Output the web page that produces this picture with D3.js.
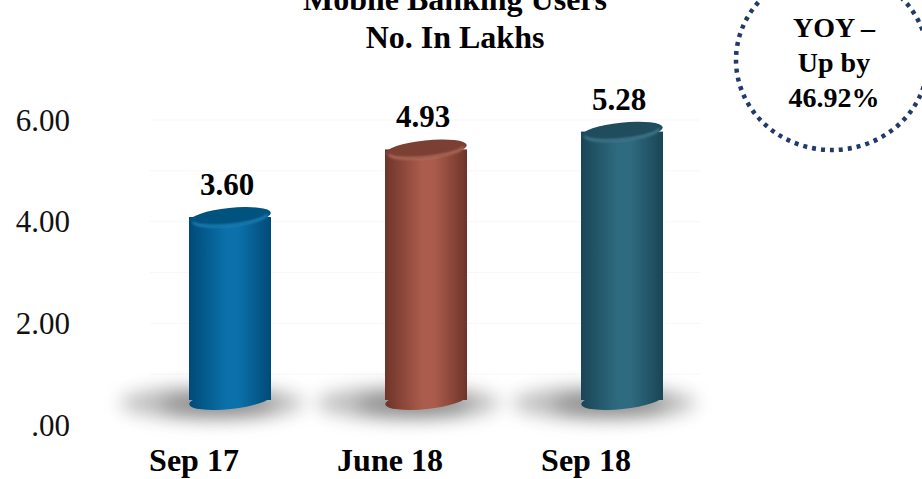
<!DOCTYPE html>
<html>
<head>
<meta charset="utf-8">
<script src="https://cdn.jsdelivr.net/npm/d3@7"></script>
<style>
  html, body { margin: 0; padding: 0; background: #fff; }
  svg { display: block; }
</style>
</head>
<body>
<svg id="chart" width="922" height="479"></svg>
<script>
// ---- data ----
const categories = ["Sep 17", "June 18", "Sep 18"];
const values = [3.60, 4.93, 5.28];
const valueLabels = ["3.60", "4.93", "5.28"];
const yTicks = [0, 2, 4, 6];
const yTickLabels = [".00", "2.00", "4.00", "6.00"];
const titleLines = ["Mobile Banking Users", "No. In Lakhs"];
const calloutLines = ["YOY \u2013", "Up by", "46.92%"];
const barColors = [
  { edge: "#004a78", mid: "#0b71aa", top: "#00527f", rim: "#2a8fc4" },
  { edge: "#6e3429", mid: "#ab5c4c", top: "#7c3f33", rim: "#c07a6a" },
  { edge: "#1a4556", mid: "#2f6b80", top: "#1f4d5e", rim: "#4f8a9e" }
];

const svg = d3.select("#chart");
const serif = "'Liberation Serif', 'DejaVu Serif', serif";

// scales
const x = d3.scaleBand().domain(categories).range([96, 684]).padding(0);
const y = d3.scaleLinear().domain([0, 6]).range([425, 120]);
const depthX = 36, depthY = -25;   // 3D offset of bar plane vs. front plane
const barW = 82, capRy = 9, tilt = -6;

const defs = svg.append("defs");
const blur = defs.append("filter").attr("id", "shadowBlur")
  .attr("x", "-50%").attr("y", "-150%").attr("width", "200%").attr("height", "400%");
blur.append("feGaussianBlur").attr("stdDeviation", 9);
const capBlur = defs.append("filter").attr("id", "capBlur")
  .attr("x", "-20%").attr("y", "-100%").attr("width", "140%").attr("height", "300%");
capBlur.append("feGaussianBlur").attr("stdDeviation", 1.2);

barColors.forEach((c, i) => {
  const g = defs.append("linearGradient").attr("id", "body" + i)
    .attr("x1", "0%").attr("x2", "100%").attr("y1", "0%").attr("y2", "0%");
  g.append("stop").attr("offset", "0%").attr("stop-color", c.edge);
  g.append("stop").attr("offset", "45%").attr("stop-color", c.mid);
  g.append("stop").attr("offset", "60%").attr("stop-color", c.mid);
  g.append("stop").attr("offset", "100%").attr("stop-color", c.edge);
});

// faint back-wall gridlines
svg.append("g").selectAll("line")
  .data(d3.range(1, 7))
  .join("line")
  .attr("x1", 150).attr("x2", 700)
  .attr("y1", d => y(d)).attr("y2", d => y(d))
  .attr("stroke", "#f7f7f7").attr("stroke-width", 1);

// title
svg.append("g").selectAll("text")
  .data(titleLines)
  .join("text")
  .attr("x", 455)
  .attr("y", (d, i) => 10 + i * 38)
  .attr("text-anchor", "middle")
  .attr("font-family", serif)
  .attr("font-weight", "bold")
  .attr("font-size", 32)
  .attr("fill", "#000")
  .text(d => d);

// y axis labels
svg.append("g").selectAll("text")
  .data(yTicks)
  .join("text")
  .attr("x", 70)
  .attr("y", d => y(d))
  .attr("dy", "0.34em")
  .attr("text-anchor", "end")
  .attr("font-family", serif)
  .attr("font-size", 31)
  .attr("fill", "#111")
  .text((d, i) => yTickLabels[i]);

// bars
const bars = categories.map((c, i) => {
  const cx = x(c) + x.bandwidth() / 2 + depthX;
  return { i, c, v: values[i], cx, top: y(values[i]) + depthY, base: y(0) + depthY };
});

// shadows
const sh = svg.append("g");
sh.selectAll("ellipse.wide")
  .data(bars)
  .join("ellipse")
  .attr("class", "wide")
  .attr("cx", d => d.cx - 18)
  .attr("cy", d => d.base + 3)
  .attr("rx", 92)
  .attr("ry", 17)
  .attr("fill", "#8a8a8a")
  .attr("opacity", 0.55)
  .attr("filter", "url(#shadowBlur)");
sh.selectAll("ellipse.core")
  .data(bars)
  .join("ellipse")
  .attr("class", "core")
  .attr("cx", d => d.cx - 12)
  .attr("cy", d => d.base + 4)
  .attr("rx", 58)
  .attr("ry", 10)
  .attr("fill", "#555")
  .attr("opacity", 0.5)
  .attr("filter", "url(#shadowBlur)");

const bg = svg.append("g").selectAll("g")
  .data(bars)
  .join("g");

// bottom ellipse
bg.append("ellipse")
  .attr("cx", d => d.cx).attr("cy", d => d.base)
  .attr("rx", barW / 2).attr("ry", capRy)
  .attr("transform", d => `rotate(${tilt},${d.cx},${d.base})`)
  .attr("fill", d => `url(#body${d.i})`);
// body
bg.append("rect")
  .attr("x", d => d.cx - barW / 2).attr("y", d => d.top)
  .attr("width", barW).attr("height", d => d.base - d.top)
  .attr("fill", d => `url(#body${d.i})`);
// top cap
bg.append("ellipse")
  .attr("cx", d => d.cx).attr("cy", d => d.top)
  .attr("rx", barW / 2).attr("ry", capRy)
  .attr("transform", d => `rotate(${tilt},${d.cx},${d.top})`)
  .attr("fill", d => barColors[d.i].top);
// rim highlight on the front edge of the cap
bg.append("path")
  .attr("d", d => {
    const rx = barW / 2 - 4, ry = capRy - 2;
    return `M${d.cx - rx},${d.top + 1} A${rx},${ry} 0 0 0 ${d.cx + rx},${d.top + 1}`;
  })
  .attr("transform", d => `rotate(${tilt},${d.cx},${d.top})`)
  .attr("fill", "none")
  .attr("stroke", d => barColors[d.i].rim)
  .attr("stroke-width", 2.5)
  .attr("opacity", 0.8)
  .attr("filter", "url(#capBlur)");

// value labels
svg.append("g").selectAll("text")
  .data(bars)
  .join("text")
  .attr("x", d => d.cx - 3)
  .attr("y", d => d.top - 22)
  .attr("text-anchor", "middle")
  .attr("font-family", serif)
  .attr("font-weight", "bold")
  .attr("font-size", 31)
  .attr("fill", "#000")
  .text(d => valueLabels[d.i]);

// category labels
svg.append("g").selectAll("text")
  .data(categories)
  .join("text")
  .attr("x", d => x(d) + x.bandwidth() / 2)
  .attr("y", 471)
  .attr("text-anchor", "middle")
  .attr("font-family", serif)
  .attr("font-weight", "bold")
  .attr("font-size", 32)
  .attr("fill", "#000")
  .text(d => d);

// YOY callout
svg.append("ellipse")
  .attr("cx", 832).attr("cy", 60)
  .attr("rx", 96).attr("ry", 90)
  .attr("fill", "none")
  .attr("stroke", "#203a6b")
  .attr("stroke-width", 4.5)
  .attr("stroke-dasharray", "4 5");

svg.append("g").selectAll("text")
  .data(calloutLines)
  .join("text")
  .attr("x", 834)
  .attr("y", (d, i) => 37 + i * 35)
  .attr("text-anchor", "middle")
  .attr("font-family", serif)
  .attr("font-weight", "bold")
  .attr("font-size", 28)
  .attr("fill", "#000")
  .text(d => d);
</script>
</body>
</html>
